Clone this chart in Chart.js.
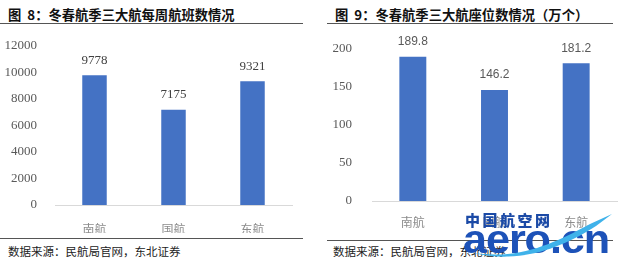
<!DOCTYPE html>
<html>
<head>
<meta charset="utf-8">
<script src="https://cdn.jsdelivr.net/npm/chart.js@4.4.1/dist/chart.umd.min.js"></script>
<style>
  body { margin: 0; width: 620px; height: 263px; background: #fff; position: relative; overflow: hidden; }
  .title { position: absolute; top: 5px; font: bold 13.3px "Noto Sans CJK SC", sans-serif; color: #111; white-space: nowrap; }
  .rule { position: absolute; height: 0; border-top: 1.5px solid #555; }
  .source { position: absolute; top: 243px; font: 11.5px "Noto Sans CJK SC", sans-serif; color: #222; white-space: nowrap; }
  canvas { position: absolute; }
  .wm1 { position: absolute; left: 465px; top: 209px; font: 900 15px "Noto Sans CJK SC", sans-serif; color: #1b4aa6; letter-spacing: 2.5px; white-space: nowrap; }
  .wm2 { position: absolute; left: 463px; top: 217px; font: bold 40px "Liberation Sans", sans-serif; color: #1d52b8; white-space: nowrap; transform: scaleX(1.08); transform-origin: left top; letter-spacing: -1px; }
</style>
</head>
<body>
<div class="title" style="left:8px">图&nbsp;&nbsp;8：冬春航季三大航每周航班数情况</div>
<div class="title" style="left:335px">图&nbsp;&nbsp;9：冬春航季三大航座位数情况（万个）</div>
<div class="rule" style="left:0; width:303px; top:23px"></div>
<div class="rule" style="left:327px; width:286px; top:23px"></div>
<div class="rule" style="left:0; width:303px; top:238px"></div>
<div class="rule" style="left:327px; width:286px; top:240px"></div>
<div class="source" style="left:8px">数据来源：民航局官网，东北证券</div>
<div class="source" style="left:333px">数据来源：民航局官网，东北证券</div>

<canvas id="flightChart" width="300" height="205" style="left:0; top:28px; width:300px; height:205px"></canvas>
<canvas id="seatChart" width="310" height="205" style="left:310px; top:28px; width:310px; height:205px"></canvas>

<div class="wm1">中国航空网</div>
<div class="wm2">aero.cn</div>
<svg style="position:absolute; left:0; top:0" width="620" height="263">
  <path d="M470 252 C 520 262, 560 240, 590 224 L 612 214 L 596 226 C 565 246, 520 266, 470 252 Z" fill="#3fb2ea"/>
</svg>

<script>
// Categories and values
const airlines = ['南航', '国航', '东航'];
const weeklyFlights = [9778, 7175, 9321];
const seatCounts = [189.8, 146.2, 181.2];

const barColor = '#4472C4';

// Value labels above bars
function valueLabels(font, color) {
    return {
        id: 'valueLabels',
        afterDatasetsDraw(chart) {
            const ctx = chart.ctx;
            const meta = chart.getDatasetMeta(0);
            ctx.save();
            ctx.font = font;
            ctx.fillStyle = color;
            ctx.textAlign = 'center';
            ctx.textBaseline = 'middle';
            meta.data.forEach((bar, i) => {
                ctx.fillText(String(chart.data.datasets[0].data[i]), bar.x, bar.y - 15);
            });
            ctx.restore();
        }
    };
}

function makeChart(id, values, opts) {
    return new Chart(document.getElementById(id).getContext('2d'), {
        type: 'bar',
        data: {
            labels: airlines,
            datasets: [{
                data: values,
                backgroundColor: barColor,
                borderWidth: 0,
                categoryPercentage: 1,
                barPercentage: opts.barPct
            }]
        },
        options: {
            responsive: false,
            animation: false,
            layout: { padding: { top: opts.top, right: opts.right, left: 0, bottom: 0 } },
            plugins: { legend: { display: false }, tooltip: { enabled: false } },
            scales: {
                x: {
                    grid: { display: false },
                    border: { display: true, color: '#d9d9d9', width: 1 },
                    ticks: { color: '#8c8c8c', font: { family: 'Noto Sans CJK SC', size: 12 }, padding: opts.xPad },
                    afterFit(scale) { scale.height = opts.xHeight; }
                },
                y: {
                    min: 0,
                    max: opts.max,
                    grid: { display: false },
                    border: { display: false },
                    ticks: {
                        stepSize: opts.step,
                        color: '#595959',
                        font: { family: 'Liberation Serif', size: 13 },
                        padding: opts.yPad,
                        callback: v => String(v)
                    },
                    afterFit(scale) { scale.width = opts.yWidth; }
                }
            }
        },
        plugins: [valueLabels(opts.labelFont, opts.labelColor)]
    });
}

makeChart('flightChart', weeklyFlights, {
    max: 12000, step: 2000, barPct: 0.31,
    top: 15, right: 8, xHeight: 28, yWidth: 55, xPad: 9, yPad: 10,
    labelFont: '13px "Liberation Serif", serif', labelColor: '#404040'
});

makeChart('seatChart', seatCounts, {
    max: 200, step: 50, barPct: 0.33,
    top: 21, right: 3, xHeight: 32, yWidth: 62, xPad: 6, yPad: 12,
    labelFont: '12px "Liberation Sans", sans-serif', labelColor: '#595959'
});
</script>
</body>
</html>
